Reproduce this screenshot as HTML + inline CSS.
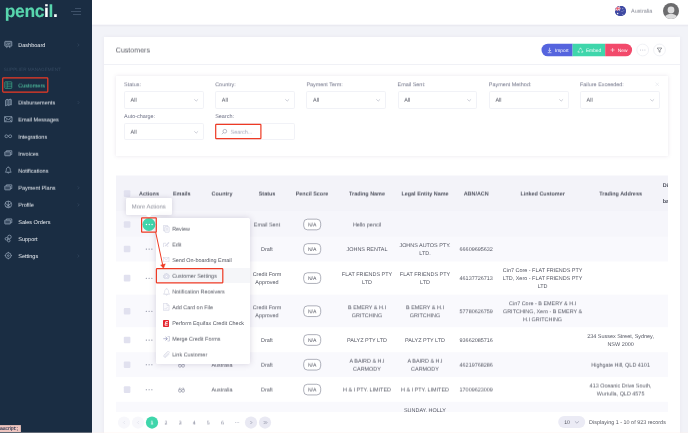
<!DOCTYPE html>
<html>
<head>
<meta charset="utf-8">
<title>Customers</title>
<style>
*{box-sizing:border-box;margin:0;padding:0}
html,body{width:688px;height:433px;overflow:hidden;background:#f2f3f8}
body{font-family:"Liberation Sans",sans-serif;font-size:5.45px;color:#525561;position:relative;text-rendering:geometricPrecision}
#wrap{position:absolute;left:0;top:0;width:688px;height:433px;filter:blur(0.28px)}
.s25{filter:url(#s25)}.s50{filter:url(#s50)}.s75{filter:url(#s75)}
.cc{position:absolute;white-space:nowrap;line-height:8px;transform:translateX(-50%);text-align:center}
.nat{font-size:5.1px}
.tx{position:absolute;white-space:nowrap;line-height:8px}
.abs{position:absolute}
.t{position:absolute;white-space:nowrap;line-height:8px;transform:translateY(-50%)}
.c{position:absolute;white-space:nowrap;line-height:8.19px;transform:translate(-50%,-50%);text-align:center}
/* sidebar */
#side{position:absolute;left:0;top:0;width:92px;height:433px;background:#1a2d43}
#sidebg{position:absolute;left:-6px;top:-6px;width:98px;height:445px;background:#1a2d43}
#logo{position:absolute;left:4.8px;top:2.2px;font-size:17.5px;font-weight:700;color:#58d5ad;letter-spacing:-0.42px;line-height:19px;-webkit-text-stroke:0.1px #58d5ad}
#logo b{color:#fff;-webkit-text-stroke:0.1px #fff}
.mi{position:absolute;left:18.2px;color:#fff;font-size:5.55px;white-space:nowrap;line-height:8px;transform:translateY(-50%);-webkit-text-stroke:0.04px #fff}
.chev{position:absolute;left:77.4px;width:2px;height:3.6px;transform:translateY(-50%);background:none}
.chev svg{display:block;width:2px;height:3.6px;overflow:visible}
.ico{position:absolute;left:4px;width:9px;height:9px;transform:translateY(-50%)}
.ico svg{width:9px;height:9px;display:block;overflow:visible}
/* header */
#head{position:absolute;left:92px;top:-6px;width:602px;height:30px;background:#fff;box-shadow:0 0.5px 2.5px rgba(82,63,105,.13)}
/* card */
#card{position:absolute;left:104px;top:36.5px;width:576px;height:420px;background:#fff;box-shadow:0 0 4px rgba(82,63,105,.06)}
#filter{position:absolute;left:116px;top:75.5px;width:552px;height:80.3px;background:#fff;box-shadow:0 0 4px rgba(82,63,105,.13)}
.lbl{position:absolute;white-space:nowrap;line-height:8px;transform:translateY(-50%);color:#6e7186}
.sel{position:absolute;width:79.8px;height:16.6px;border:1px solid #f1f2f7;border-radius:1.6px;background:#fff}
.sel span{position:absolute;left:5.4px;top:50%;transform:translateY(-50%);line-height:8px;color:#4e515e}
.sel i{position:absolute;right:4.7px;top:6.6px;width:4.4px;height:2.4px}
.sel i svg{display:block;width:4.4px;height:2.4px;overflow:visible}
/* table */
#tbl{position:absolute;left:116px;top:175.5px;width:552px;height:260px;overflow:hidden}
.row{position:absolute;left:0;width:552px}
.str{background:#f4f4fa}
.th{font-weight:700;color:#4d505d}
.cb{position:absolute;left:124px;width:6.4px;height:6.4px;background:#e1e1ef;border-radius:1px;transform:translateY(-50%)}
.dots{position:absolute;left:145.2px;width:8px;height:2px;transform:translateY(-50%)}
.dots i{position:absolute;top:0.5px;width:1px;height:1px;border-radius:50%;background:#74788d}
.na{position:absolute;left:303.3px;width:17.8px;height:11.3px;border:1px solid #9c9eab;border-radius:4.2px;transform:translateY(-50%);background:#fff;text-align:center;line-height:10.3px;font-size:5.1px;color:#525561;overflow:hidden}
/* dropdown */
#dd{position:absolute;left:156.3px;top:217.5px;width:93.7px;height:146.8px;background:#fff;border-radius:1.5px;box-shadow:0 0 6px rgba(82,63,105,.22)}
.di{position:absolute;left:172px;white-space:nowrap;line-height:8px;transform:translateY(-50%);color:#51545f}
.dic{position:absolute;left:163px;width:7px;height:7px;transform:translateY(-50%)}
.dic svg{width:7px;height:7px;display:block;overflow:visible}
</style>
</head>
<body>
<svg width="0" height="0" style="position:absolute"><defs>
<filter id="s25" x="-5%" y="-30%" width="110%" height="160%" color-interpolation-filters="sRGB"><feConvolveMatrix order="1 2" kernelMatrix="0.75 0.25" targetX="0" targetY="1" edgeMode="none" preserveAlpha="false"/></filter>
<filter id="s50" x="-5%" y="-30%" width="110%" height="160%" color-interpolation-filters="sRGB"><feConvolveMatrix order="1 2" kernelMatrix="0.5 0.5" targetX="0" targetY="1" edgeMode="none" preserveAlpha="false"/></filter>
<filter id="s75" x="-5%" y="-30%" width="110%" height="160%" color-interpolation-filters="sRGB"><feConvolveMatrix order="1 2" kernelMatrix="0.25 0.75" targetX="0" targetY="1" edgeMode="none" preserveAlpha="false"/></filter>
</defs></svg>
<div id="wrap">
<!-- ===== card / main ===== -->
<div class="abs" style="left:-6px;top:-6px;width:700px;height:445px;background:#f2f3f8"></div>
<div id="head"></div>
<div class="abs" style="left:92px;top:24px;width:600px;height:1px;background:#f8f8fb"></div>
<div id="card"></div>
<div class="tx s50" style="left:115.8px;top:47px;font-size:7.07px;color:#575962">Customers</div>
<div class="abs" style="left:104px;top:64px;width:576px;height:1px;background:#f0f1f6"></div>

<!-- flag -->
<div class="abs" style="left:615.1px;top:5.5px;width:10.8px;height:10.8px;border-radius:50%;background:#3f4aa3;overflow:hidden">
  <svg viewBox="0 0 20 20" width="10.8" height="10.8" style="display:block"><rect width="20" height="20" fill="#3f4aa3"/><path d="M0 0h10v9H0z" fill="#4450a8"/><path d="M0 1l9 7M9 1L0 8" stroke="#fff" stroke-width="2"/><path d="M0 1l9 7M9 1L0 8" stroke="#ea5064" stroke-width="1"/><path d="M4.500 0v9M0 4.500h10" stroke="#fff" stroke-width="2.600"/><path d="M4.500 0v9M0 4.500h10" stroke="#ea5064" stroke-width="1.500"/><circle cx="5" cy="14" r="1.300" fill="#fff"/><circle cx="14.500" cy="5" r="0.900" fill="#fff"/><circle cx="16.500" cy="9" r="0.800" fill="#fff"/><circle cx="13" cy="10.500" r="0.800" fill="#fff"/><circle cx="14.500" cy="15.500" r="0.900" fill="#fff"/></svg>
</div>
<div class="tx s75" style="left:631px;top:7px;color:#7c7f8c">Australia</div>
<!-- avatar -->
<div class="abs" style="left:663px;top:2.9px;width:16px;height:16px;border-radius:50%;background:#6b6b6d;overflow:hidden">
  <svg viewBox="0 0 32 32" width="16" height="16" style="display:block"><circle cx="16" cy="14" r="6.800" fill="#dcdcdd"/><path d="M3 33c0-8 4.500-11 13-11s13 3 13 11z" fill="#dcdcdd"/></svg>
</div>

<svg class="abs" style="left:536px;top:40px" width="100" height="20" viewBox="536 40 100 20">
<defs><clipPath id="bgc"><rect x="541.5" y="43.7" width="90.6" height="12.6" rx="6.3"/></clipPath></defs>
<g clip-path="url(#bgc)"><rect x="541" y="43" width="31.600" height="14" fill="#5564de"/><rect x="572.600" y="43" width="32.600" height="14" fill="#3fd6ab"/><rect x="605.200" y="43" width="28" height="14" fill="#f24a6b"/></g>
<g fill="none" stroke="#fff">
<path d="M549.600 47.700v3.700M548.200 50l1.400 1.400 1.400-1.400M547.700 52.700h3.800" stroke-width="0.600"/>
<path d="M579.400 49.600L580.500 47.800l1.100 1.800M582.300 50.600l.7 1.500h-1.900M579.800 52.100h-1.900l.7-1.500" stroke-width="0.600"/>
<path d="M612.600 48v4M610.600 50h4" stroke-width="0.550"/>
</g></svg>
<div class="tx" style="left:554.9px;top:48px;font-size:4.85px;color:#fff">Import</div>
<div class="tx" style="left:585.9px;top:48px;font-size:4.85px;color:#fff">Embed</div>
<div class="tx" style="left:617.8px;top:48px;font-size:4.85px;color:#fff">New</div>
<svg class="abs" style="left:634px;top:40px" width="36" height="20" viewBox="634 40 36 20" fill="none">
<circle cx="642.700" cy="50" r="5.900" fill="#fff" stroke="#eceef3" stroke-width="0.800"/>
<circle cx="659.500" cy="50" r="5.900" fill="#fff" stroke="#eceef3" stroke-width="0.800"/>
<circle cx="640.500" cy="50" r="0.550" fill="#bfc2cf"/><circle cx="642.700" cy="50" r="0.550" fill="#bfc2cf"/><circle cx="644.900" cy="50" r="0.550" fill="#bfc2cf"/>
<path d="M657.200 48h4.600l-1.750 2.200v2.100l-1.100-.7v-1.400z" stroke="#575962" stroke-width="0.550" stroke-linejoin="round"/>
</svg>

<div id="filter"></div>
<div class="tx s25" style="left:124px;top:81px;color:#6e7186">Status:</div>
<div class="sel" style="left:124px;top:91px;height:18px"><i><svg viewBox="0 0 8.800 4.800" fill="none" stroke="#8f93a8" stroke-width="0.9"><path d="M0.600 0.600L4.400 4.200L8.200 0.600"/></svg></i></div>
<div class="tx s75" style="left:130.6px;top:96px;color:#4e515e">All</div>
<div class="tx s25" style="left:215.2px;top:81px;color:#6e7186">Country:</div>
<div class="sel" style="left:215.2px;top:91px;height:18px"><i><svg viewBox="0 0 8.800 4.800" fill="none" stroke="#8f93a8" stroke-width="0.9"><path d="M0.600 0.600L4.400 4.200L8.200 0.600"/></svg></i></div>
<div class="tx s75" style="left:221.79999999999998px;top:96px;color:#4e515e">All</div>
<div class="tx s25" style="left:306.4px;top:81px;color:#6e7186">Payment Term:</div>
<div class="sel" style="left:306.4px;top:91px;height:18px"><i><svg viewBox="0 0 8.800 4.800" fill="none" stroke="#8f93a8" stroke-width="0.9"><path d="M0.600 0.600L4.400 4.200L8.200 0.600"/></svg></i></div>
<div class="tx s75" style="left:313.0px;top:96px;color:#4e515e">All</div>
<div class="tx s25" style="left:397.6px;top:81px;color:#6e7186">Email Sent:</div>
<div class="sel" style="left:397.6px;top:91px;height:18px"><i><svg viewBox="0 0 8.800 4.800" fill="none" stroke="#8f93a8" stroke-width="0.9"><path d="M0.600 0.600L4.400 4.200L8.200 0.600"/></svg></i></div>
<div class="tx s75" style="left:404.20000000000005px;top:96px;color:#4e515e">All</div>
<div class="tx s25" style="left:488.8px;top:81px;color:#6e7186">Payment Method:</div>
<div class="sel" style="left:488.8px;top:91px;height:18px"><i><svg viewBox="0 0 8.800 4.800" fill="none" stroke="#8f93a8" stroke-width="0.9"><path d="M0.600 0.600L4.400 4.200L8.200 0.600"/></svg></i></div>
<div class="tx s75" style="left:495.40000000000003px;top:96px;color:#4e515e">All</div>
<div class="tx s25" style="left:580px;top:81px;color:#6e7186">Failure Exceeded:</div>
<div class="sel" style="left:580px;top:91px;height:18px"><i><svg viewBox="0 0 8.800 4.800" fill="none" stroke="#8f93a8" stroke-width="0.9"><path d="M0.600 0.600L4.400 4.200L8.200 0.600"/></svg></i></div>
<div class="tx s75" style="left:586.6px;top:96px;color:#4e515e">All</div>
<div class="tx" style="left:124px;top:113px;color:#6e7186">Auto-charge:</div>
<div class="tx" style="left:215.2px;top:113px;color:#6e7186">Search:</div>
<div class="sel" style="left:124px;top:123px;height:17px"><i><svg viewBox="0 0 8.800 4.800" fill="none" stroke="#8f93a8" stroke-width="0.9"><path d="M0.600 0.600L4.400 4.200L8.200 0.600"/></svg></i></div>
<div class="tx s75" style="left:130.6px;top:128px;color:#4e515e">All</div>
<div class="sel" style="left:215.2px;top:123px;height:17px"></div>
<svg class="abs" style="left:221px;top:128px;overflow:visible" width="6" height="6" viewBox="0 0 10 10" fill="none" stroke="#7f8398" stroke-width="0.85"><g transform="translate(0.6 1.2)"><circle cx="5.800" cy="4.200" r="3.100"/><path d="M3.500 6.500L0.800 9.200"/></g></svg>
<div class="tx s75" style="left:230.6px;top:128px;color:#a4a8ba">Search...</div>
<svg class="abs" style="left:212px;top:120px" width="54" height="24" viewBox="212 120 54 24" fill="none" stroke="#ee3a24" stroke-width="1.2"><rect x="215.700" y="124.400" width="45.200" height="14.300" rx="0.600"/></svg>
<svg class="abs" style="left:654.800px;top:82px" width="4.600" height="4.600" viewBox="0 0 9 9" fill="none" stroke="#dfe1ea" stroke-width="1"><path d="M1 1l7 7M8 1L1 8"/></svg>

<svg class="abs" style="left:116px;top:175px" width="552" height="258" viewBox="116 175 552 258" fill="none">
<rect x="116" y="175.5" width="552" height="36.2" fill="#f3f3f9"/>
<rect x="116" y="211.7" width="552" height="25.2" fill="#f6f6fb"/>
<rect x="116" y="236.9" width="552" height="24.7" fill="#f9f9fd"/>
<rect x="116" y="261.6" width="552" height="33.0" fill="#ffffff"/>
<rect x="116" y="294.6" width="552" height="32.8" fill="#f9f9fd"/>
<rect x="116" y="327.4" width="552" height="24.8" fill="#ffffff"/>
<rect x="116" y="352.2" width="552" height="24.8" fill="#f9f9fd"/>
<rect x="116" y="377.0" width="552" height="24.8" fill="#ffffff"/>
<rect x="116" y="401.8" width="552" height="28.2" fill="#f9f9fd"/>
<rect x="123.800" y="190.30" width="6.600" height="6.600" rx="1" fill="#e1e1ef"/>
<rect x="123.800" y="221.20" width="6.600" height="6.600" rx="1" fill="#e1e1ef"/>
<rect x="303.700" y="219.15" width="17" height="10.700" rx="3.900" fill="#fff" stroke="#8d8f9d" stroke-width="0.700"/>
<rect x="123.800" y="245.70" width="6.600" height="6.600" rx="1" fill="#e1e1ef"/>
<circle cx="146.3" cy="249.10" r="0.560" fill="#74788d"/><circle cx="149.1" cy="249.10" r="0.560" fill="#74788d"/><circle cx="151.9" cy="249.10" r="0.560" fill="#74788d"/>
<rect x="303.700" y="243.65" width="17" height="10.700" rx="3.900" fill="#fff" stroke="#8d8f9d" stroke-width="0.700"/>
<rect x="123.800" y="274.80" width="6.600" height="6.600" rx="1" fill="#e1e1ef"/>
<circle cx="146.3" cy="278.20" r="0.560" fill="#74788d"/><circle cx="149.1" cy="278.20" r="0.560" fill="#74788d"/><circle cx="151.9" cy="278.20" r="0.560" fill="#74788d"/>
<rect x="303.700" y="272.75" width="17" height="10.700" rx="3.900" fill="#fff" stroke="#8d8f9d" stroke-width="0.700"/>
<rect x="123.800" y="307.90" width="6.600" height="6.600" rx="1" fill="#e1e1ef"/>
<circle cx="146.3" cy="311.30" r="0.560" fill="#74788d"/><circle cx="149.1" cy="311.30" r="0.560" fill="#74788d"/><circle cx="151.9" cy="311.30" r="0.560" fill="#74788d"/>
<rect x="303.700" y="305.85" width="17" height="10.700" rx="3.900" fill="#fff" stroke="#8d8f9d" stroke-width="0.700"/>
<rect x="123.800" y="336.70" width="6.600" height="6.600" rx="1" fill="#e1e1ef"/>
<circle cx="146.3" cy="340.10" r="0.560" fill="#74788d"/><circle cx="149.1" cy="340.10" r="0.560" fill="#74788d"/><circle cx="151.9" cy="340.10" r="0.560" fill="#74788d"/>
<rect x="303.700" y="334.65" width="17" height="10.700" rx="3.900" fill="#fff" stroke="#8d8f9d" stroke-width="0.700"/>
<rect x="123.800" y="361.40" width="6.600" height="6.600" rx="1" fill="#e1e1ef"/>
<circle cx="146.3" cy="364.80" r="0.560" fill="#74788d"/><circle cx="149.1" cy="364.80" r="0.560" fill="#74788d"/><circle cx="151.9" cy="364.80" r="0.560" fill="#74788d"/>
<rect x="303.700" y="359.35" width="17" height="10.700" rx="3.900" fill="#fff" stroke="#8d8f9d" stroke-width="0.700"/>
<rect x="123.800" y="386.30" width="6.600" height="6.600" rx="1" fill="#e1e1ef"/>
<circle cx="146.3" cy="389.70" r="0.560" fill="#74788d"/><circle cx="149.1" cy="389.70" r="0.560" fill="#74788d"/><circle cx="151.9" cy="389.70" r="0.560" fill="#74788d"/>
<rect x="303.700" y="384.25" width="17" height="10.700" rx="3.900" fill="#fff" stroke="#8d8f9d" stroke-width="0.700"/>
</svg>
<div class="cc s50 th" style="left:149px;top:190px">Actions</div>
<div class="cc s50 th" style="left:181.7px;top:190px">Emails</div>
<div class="cc s50 th" style="left:222px;top:190px">Country</div>
<div class="cc s50 th" style="left:267px;top:190px">Status</div>
<div class="cc s50 th" style="left:312px;top:190px">Pencil Score</div>
<div class="cc s50 th" style="left:367px;top:190px">Trading Name</div>
<div class="cc s50 th" style="left:425px;top:190px">Legal Entity Name</div>
<div class="cc s50 th" style="left:476.2px;top:190px">ABN/ACN</div>
<div class="cc s50 th" style="left:542.6px;top:190px">Linked Customer</div>
<div class="cc s50 th" style="left:620.6px;top:190px">Trading Address</div>
<div class="abs th" style="left:662.8px;top:182px;width:5.2px;height:8px;overflow:hidden;line-height:8px;white-space:nowrap">Discount</div>
<div class="abs th" style="left:662.8px;top:198px;width:5.2px;height:8px;overflow:hidden;line-height:8px;white-space:nowrap">based</div>
<div class="cc s50 nat" style="left:312.2px;top:221px">N/A</div>
<div class="cc s50" style="left:267px;top:221px">Email Sent</div>
<div class="cc s50" style="left:367px;top:221px">Hello pencil</div>
<div class="cc nat" style="left:312.2px;top:246px">N/A</div>
<div class="cc" style="left:267px;top:246px">Draft</div>
<div class="cc" style="left:367px;top:246px">JOHNS RENTAL</div>
<div class="cc" style="left:425px;top:242px">JOHNS AUTOS PTY.<br>LTD.</div>
<div class="cc" style="left:476.2px;top:246px">66609695632</div>
<div class="cc nat" style="left:312.2px;top:275px">N/A</div>
<div class="cc" style="left:267px;top:271px">Credit Form<br>Approved</div>
<div class="cc" style="left:367px;top:271px">FLAT FRIENDS PTY<br>LTD</div>
<div class="cc" style="left:425px;top:271px">FLAT FRIENDS PTY<br>LTD</div>
<div class="cc" style="left:476.2px;top:275px">46137726713</div>
<div class="cc" style="left:542.6px;top:267px">Cin7 Core - FLAT FRIENDS PTY<br>LTD, Xero - FLAT FRIENDS PTY<br>LTD</div>
<div class="cc s25 nat" style="left:312.2px;top:308px">N/A</div>
<div class="cc s25" style="left:267px;top:304px">Credit Form<br>Approved</div>
<div class="cc s25" style="left:367px;top:304px">B EMERY &amp; H.I<br>GRITCHING</div>
<div class="cc s25" style="left:425px;top:304px">B EMERY &amp; H.I<br>GRITCHING</div>
<div class="cc s25" style="left:476.2px;top:308px">57780626759</div>
<div class="cc s25" style="left:542.6px;top:300px">Cin7 Core - B EMERY &amp; H.I<br>GRITCHING, Xero - B EMERY &amp;<br>H.I GRITCHING</div>
<div class="cc nat" style="left:312.2px;top:337px">N/A</div>
<div class="cc" style="left:267px;top:337px">Draft</div>
<div class="cc" style="left:367px;top:337px">PALYZ PTY LTD</div>
<div class="cc" style="left:425px;top:337px">PALYZ PTY LTD</div>
<div class="cc" style="left:476.2px;top:337px">93662085716</div>
<div class="cc" style="left:620.6px;top:333px">234 Sussex Street, Sydney,<br>NSW 2000</div>
<div class="cc s75 nat" style="left:312.2px;top:361px">N/A</div>
<div class="cc s75" style="left:267px;top:361px">Draft</div>
<div class="cc s75" style="left:367px;top:357px">A BAIRD &amp; H.I<br>CARMODY</div>
<div class="cc s75" style="left:425px;top:357px">A BAIRD &amp; H.I<br>CARMODY</div>
<div class="cc s75" style="left:476.2px;top:361px">46219768286</div>
<div class="cc s75" style="left:620.6px;top:361px">Highgate Hill, QLD 4101</div>
<div class="cc s75" style="left:222px;top:361px">Australia</div>
<svg class="abs" style="left:178.2px;top:361.8px" width="7" height="5.9" viewBox="0 0 13 11" fill="none" stroke="#6c7087" stroke-width="0.9"><circle cx="3.6" cy="7.2" r="2.6"/><circle cx="9.4" cy="7.2" r="2.6"/><path d="M6.2 7.2h0.600M1.300 6l1.500-4.200c.3-.8 1.400-.8 1.700 0M11.700 6l-1.500-4.200c-.3-.8-1.400-.8-1.700 0M4.800 3.500h3.400"/></svg>
<div class="cc s50 nat" style="left:312.2px;top:386px">N/A</div>
<div class="cc s50" style="left:267px;top:386px">Draft</div>
<div class="cc s50" style="left:367px;top:386px">H &amp; I PTY. LIMITED</div>
<div class="cc s50" style="left:425px;top:386px">H &amp; I PTY. LIMITED</div>
<div class="cc s50" style="left:476.2px;top:386px">17009623009</div>
<div class="cc s50" style="left:620.6px;top:382px">413 Oceanic Drive South,<br>Wurtulla, QLD 4575</div>
<div class="cc s50" style="left:222px;top:386px">Australia</div>
<svg class="abs" style="left:178.2px;top:386.70000000000005px" width="7" height="5.9" viewBox="0 0 13 11" fill="none" stroke="#6c7087" stroke-width="0.9"><circle cx="3.6" cy="7.2" r="2.6"/><circle cx="9.4" cy="7.2" r="2.6"/><path d="M6.2 7.2h0.600M1.300 6l1.500-4.200c.3-.8 1.400-.8 1.700 0M11.700 6l-1.500-4.200c-.3-.8-1.400-.8-1.700 0M4.800 3.500h3.400"/></svg>
<div class="cc" style="left:425px;top:407px">SUNDAY. HOLLY</div>

<!-- More Actions tooltip -->
<div class="abs" style="left:126px;top:198.2px;width:46px;height:16.8px;background:#fff;border-radius:1.3px;box-shadow:0 0 5px rgba(82,63,105,.2)"></div>
<div class="abs" style="left:146.600px;top:213.300px;width:3.600px;height:3.600px;background:#fff;transform:rotate(45deg)"></div>
<div class="tx s50" style="left:148.8px;top:203px;font-size:5.9px;transform:translateX(-50%);text-align:center;color:#8c8e9a">More Actions</div>
<!-- green action button -->
<svg class="abs" style="left:140px;top:216px" width="18" height="18" viewBox="140 216 18 18"><circle cx="148.900" cy="224.550" r="6.450" fill="#3fd6ab"/><circle cx="146.400" cy="224.550" r="0.700" fill="#fff"/><circle cx="149.250" cy="224.550" r="0.700" fill="#fff"/><circle cx="152.100" cy="224.550" r="0.700" fill="#fff"/></svg>
<!-- dropdown -->
<div id="dd"></div>
<div class="abs" style="left:156.3px;top:268.3px;width:93.7px;height:14.7px;background:#f5f6f9"></div>
<div class="tx s75" style="left:172.15px;top:225px;color:#51545f">Review</div>
<div class="tx s50" style="left:172.15px;top:241px;color:#51545f">Edit</div>
<div class="tx" style="left:172.15px;top:257px;color:#51545f">Send On-boarding Email</div>
<div class="tx s75" style="left:172.15px;top:272px;color:#51545f">Customer Settings</div>
<div class="tx s50" style="left:172.15px;top:288px;color:#51545f">Notification Receivers</div>
<div class="tx s25" style="left:172.15px;top:304px;color:#51545f">Add Card on File</div>
<div class="tx" style="left:172.15px;top:320px;color:#51545f">Perform Equifax Credit Check</div>
<div class="tx s75" style="left:172.15px;top:335px;color:#51545f">Merge Credit Forms</div>
<div class="tx s50" style="left:172.15px;top:351px;color:#51545f">Link Customer</div>
<!-- icons -->
<svg class="abs" style="left:163.200px;top:225px" width="6.600" height="7.600" viewBox="0 0 13.200 15.200" fill="#f3f3f9" stroke="#c6c8da" stroke-width="1"><rect x="0.600" y="0.600" width="8.600" height="11" rx="1"/><rect x="3.800" y="3.600" width="8.600" height="11" rx="1" fill="#fafafd"/><path d="M6 7.500h4M6 10h4" /></svg>
<svg class="abs" style="left:163.200px;top:241.600px" width="6.600" height="5.800" viewBox="0 0 13.200 11.600" fill="none" stroke="#c6c8da" stroke-width="1"><path d="M9.500 7v3.800H1V2.500h5"/><path d="M4.800 8l1.500-.3 6-6L11 .6l-6 6z" fill="#e6e7f1"/></svg>
<svg class="abs" style="left:163.400px;top:257.300px" width="6.400" height="5.200" viewBox="0 0 12.800 10.400" fill="#fbfbfe" stroke="#c6c8da" stroke-width="0.9"><rect x="0.600" y="0.600" width="11.600" height="9.200" rx="0.500"/><path d="M0.800 1l5.600 4.400L12 1" fill="none"/></svg>
<svg class="abs" style="left:162.900px;top:272.600px" width="6.800" height="6.800" viewBox="0 0 13.600 13.600" fill="none" stroke="#c6c8da" stroke-width="1"><circle cx="6.800" cy="6.800" r="5.800" stroke-dasharray="2.600 1" stroke-width="1.400"/><circle cx="6.800" cy="6.800" r="4.600" fill="#f1f1f8"/><circle cx="6.800" cy="6.800" r="2.200" fill="#fff"/></svg>
<svg class="abs" style="left:162.900px;top:288px" width="7.200" height="7.600" viewBox="0 0 14.400 15.200" fill="none" stroke="#c6c8da" stroke-width="1"><path d="M7.200 2C4.400 2 3.400 4.400 3.400 6.800c0 3.200-1.400 4.600-2.400 5.600h12.400c-1-1-2.400-2.400-2.400-5.600C11 4.400 10 2 7.200 2zM5.600 12.800a1.600 1.600 0 003.200 0M7.200 .5V2"/></svg>
<svg class="abs" style="left:163.200px;top:303.400px" width="6.400" height="7.600" viewBox="0 0 12.800 15.200" fill="#fafafd" stroke="#c6c8da" stroke-width="1"><path d="M0.600 .6h7.400l4.200 4.200v9.800H0.600zM8 .6v4.200h4.200"/><path d="M3.400 10.500l1.800 1.800L9 8.200" fill="none"/></svg>
<div class="abs" style="left:162.9px;top:319.9px;width:6.4px;height:6.8px;background:#e5242f;border-radius:0.7px"></div>
<svg class="abs" style="left:163.900px;top:320.900px" width="4.600" height="4.800" viewBox="0 0 9.200 9.600" fill="none" stroke="#fff" stroke-width="1.700"><path d="M8.600 1.200H3.600L2 8.400h5.400M2.800 4.800h4.600"/></svg>
<svg class="abs" style="left:162.800px;top:336.200px" width="6.800" height="5.400" viewBox="0 0 13.600 10.800" fill="none" stroke="#7276a3" stroke-width="1.400"><path d="M0.500 5.400h7.500" stroke="#9a9dc0"/><path d="M5.200 2l3.600 3.400-3.600 3.400" /><path d="M9 .7h3.800v9.400H9" stroke="#a9acc8" stroke-width="1.100"/></svg>
<svg class="abs" style="left:162.800px;top:350.800px" width="7.200" height="7.200" viewBox="0 0 14.400 14.400" fill="none" stroke="#c6c8da" stroke-width="1"><path d="M13 5.500L6.200 12.300a3 3 0 01-4.200-4.200L9 1.100a2 2 0 012.900 2.900L5.200 10.700a1 1 0 01-1.500-1.500L9.800 3.100"/></svg>
<!-- red annotations -->
<svg class="abs" style="left:136px;top:212px" width="100" height="80" viewBox="136 212 100 80" fill="none" stroke="#ee3a24" stroke-width="1.2">
<rect x="141.600" y="217.900" width="14.700" height="14.200" rx="0.400"/>
<rect x="156.400" y="268.700" width="66.400" height="14.200" rx="0.700"/>
<path d="M155.700 232.300L162.700 265" stroke-width="1"/>
<path d="M160.500 264.900L165.400 263.800L163.500 268.600z" fill="#ee3a24" stroke-width="0.300"/>
</svg>

<div class="abs" style="left:104px;top:412.2px;width:576px;height:22px;background:rgba(255,255,255,.96)"></div>
<svg class="abs" style="left:112px;top:412px" width="170" height="21" viewBox="112 412 170 21" fill="none">
<circle cx="124" cy="422.55" r="6.1" fill="#f7f7fb"/><circle cx="138" cy="422.55" r="6.1" fill="#f7f7fb"/><circle cx="152" cy="422.55" r="6.1" fill="#3fd6ab"/>
<circle cx="251" cy="422.55" r="6.1" fill="#e9e9f3"/><circle cx="265" cy="422.55" r="6.1" fill="#e9e9f3"/>
<path d="M124.900 421.05l-1.500 1.500 1.500 1.500M138.900 421.05l-1.500 1.500 1.500 1.500" stroke="#dcdde8" stroke-width="0.600"/>
<path d="M250.400 421.05l1.500 1.500-1.500 1.500" stroke="#8a8da0" stroke-width="0.650"/>
<path d="M263.700 421.05l1.500 1.500-1.500 1.500M265.500 421.05l1.500 1.500-1.500 1.500" stroke="#8a8da0" stroke-width="0.650"/>
<circle cx="235.400" cy="422.55" r="0.450" fill="#a8abbb"/><circle cx="237.100" cy="422.55" r="0.450" fill="#a8abbb"/><circle cx="238.800" cy="422.55" r="0.450" fill="#a8abbb"/>
</svg>
<div class="tx s50" style="left:152px;top:419px;font-size:5.2px;transform:translateX(-50%);text-align:center;color:#fff;font-weight:700">1</div>
<div class="tx s50" style="left:166.0px;top:419px;font-size:5.2px;transform:translateX(-50%);text-align:center;color:#777a90">2</div>
<div class="tx s50" style="left:180.1px;top:419px;font-size:5.2px;transform:translateX(-50%);text-align:center;color:#777a90">3</div>
<div class="tx s50" style="left:194.2px;top:419px;font-size:5.2px;transform:translateX(-50%);text-align:center;color:#777a90">4</div>
<div class="tx s50" style="left:208.3px;top:419px;font-size:5.2px;transform:translateX(-50%);text-align:center;color:#777a90">5</div>
<div class="tx s50" style="left:222.4px;top:419px;font-size:5.2px;transform:translateX(-50%);text-align:center;color:#777a90">6</div>
<svg class="abs" style="left:556px;top:412px" width="32" height="21" viewBox="556 412 32 21" fill="none">
<rect x="558.200" y="416.05" width="27" height="11.900" rx="5.950" fill="#ebebf5"/>
<path d="M574.900 421.3l2 1.900 2-1.900" stroke="#7b7e92" stroke-width="0.500"/>
</svg>
<div class="tx" style="left:564.2px;top:419px;font-size:5.2px;color:#575962">10</div>
<div class="tx" style="left:589.1px;top:419px;color:#575962">Displaying 1 - 10 of 923 records</div>

<div id="sidebg"></div>
<div id="side">
  <div id="logo">penc<b>i</b>l<b>.</b></div>
  <div class="abs" style="left:74.9px;top:8.1px;width:5.8px;height:0.6px;background:#3d5068"></div>
  <div class="abs" style="left:70.5px;top:10.7px;width:10.2px;height:0.6px;background:#3d5068"></div>
  <div class="abs" style="left:72.7px;top:13.8px;width:8px;height:0.6px;background:#3d5068"></div>
  <div class="tx" style="left:3.7px;top:66px;font-size:4.62px;color:#344960">SUPPLIER MANAGEMENT</div>
  <svg class="abs" style="left:4px;top:40px;overflow:visible" width="8.4" height="8.4" viewBox="0 0 18 18" fill="none" stroke="#9eafc2" stroke-width="1.45"><g transform="translate(0.2 0.86)"><rect x="1.5" y="2" width="15" height="10.5" rx="1.2" fill="rgba(158,175,194,.28)"/><path d="M5.500 16.500l1-4M12.500 16.500l-1-4M5 9.500l3-3 2.500 2 3-3.500"/></g></svg>
  <div class="tx" style="left:18.2px;top:42px;font-size:5.55px;color:#e9edf2">Dashboard</div>
  <svg class="abs" style="left:77px;top:43px;overflow:visible" width="2" height="3.6" viewBox="0 0 4 7.2" fill="none" stroke="#41556e" stroke-width="0.9"><g transform="translate(0.8 0.40)"><path d="M0.600 0.600L3.400 3.600L0.600 6.600"/></g></svg>
  <svg class="abs" style="left:4px;top:80px;overflow:visible" width="8.4" height="8.4" viewBox="0 0 18 18" fill="none" stroke="#3fae8c" stroke-width="1.45"><g transform="translate(0.2 1.93)"><rect x="1.500" y="2" width="15" height="14" rx="1"/><path d="M6.500 2v14M6.500 6.600h10M6.500 11.300h10M3.300 6.600h1.500M3.300 11.300h1.500"/></g></svg>
  <div class="tx s50" style="left:18.2px;top:82px;font-size:5.55px;color:#56d4ab">Customers</div>
  <svg class="abs" style="left:4px;top:97px;overflow:visible" width="8.4" height="8.4" viewBox="0 0 18 18" fill="none" stroke="#9eafc2" stroke-width="1.45"><g transform="translate(0.2 2.04)"><path d="M3 5l3.500-2v12L3 17zM6.500 3l3.500 1v12l-3.500-1M10 4l3-1.500v12l-3 1.500M13 2.500l2.500 1v11.500l-2.500-.5"/></g></svg>
  <div class="tx s50" style="left:18.2px;top:99px;font-size:5.55px;color:#e9edf2">Disbursements</div>
  <svg class="abs" style="left:77px;top:100px;overflow:visible" width="2" height="3.6" viewBox="0 0 4 7.2" fill="none" stroke="#41556e" stroke-width="0.9"><g transform="translate(0.8 1.50)"><path d="M0.600 0.600L3.400 3.600L0.600 6.600"/></g></svg>
  <svg class="abs" style="left:4px;top:114px;overflow:visible" width="8.4" height="8.4" viewBox="0 0 18 18" fill="none" stroke="#9eafc2" stroke-width="1.45"><g transform="translate(0.2 2.14)"><rect x="1" y="3.500" width="16" height="11" rx="0.500"/><path d="M1 4l8 6 8-6M1 14.500l5.500-5M17 14.500l-5.500-5"/></g></svg>
  <div class="tx s50" style="left:18.2px;top:116px;font-size:5.55px;color:#e9edf2">Email Messages</div>
  <svg class="abs" style="left:4px;top:132px;overflow:visible" width="8.4" height="8.4" viewBox="0 0 18 18" fill="none" stroke="#9eafc2" stroke-width="1.45"><g transform="translate(0.2 0.11)"><path d="M9 9c-1.200-2-2.500-3-4.200-3a3 3 0 000 6c1.700 0 3-1 4.200-3zm0 0c1.200 2 2.500 3 4.200 3a3 3 0 000-6C11.500 6 10.200 7 9 9z"/></g></svg>
  <div class="tx s75" style="left:18.2px;top:133px;font-size:5.55px;color:#e9edf2">Integrations</div>
  <svg class="abs" style="left:4px;top:149px;overflow:visible" width="8.4" height="8.4" viewBox="0 0 18 18" fill="none" stroke="#9eafc2" stroke-width="1.45"><g transform="translate(0.2 0.21)"><path d="M5 5.500V3.500h11.500v8h-2.500"/><rect x="1.500" y="5.800" width="12" height="8.500" rx="0.800" fill="rgba(158,175,194,.25)"/></g></svg>
  <div class="tx s75" style="left:18.2px;top:150px;font-size:5.55px;color:#e9edf2">Invoices</div>
  <svg class="abs" style="left:4px;top:166px;overflow:visible" width="8.4" height="8.4" viewBox="0 0 18 18" fill="none" stroke="#9eafc2" stroke-width="1.45"><g transform="translate(0.2 0.32)"><path d="M9 2.500c-3 0-4.200 2.300-4.200 5 0 3-1.500 4.500-2 5.500h12.400c-.5-1-2-2.500-2-5.500 0-2.700-1.200-5-4.200-5zM7.500 13.500a1.500 1.500 0 003 0M9 1v1.500"/></g></svg>
  <div class="tx s75" style="left:18.2px;top:167px;font-size:5.55px;color:#e9edf2">Notifications</div>
  <svg class="abs" style="left:4px;top:183px;overflow:visible" width="8.4" height="8.4" viewBox="0 0 18 18" fill="none" stroke="#9eafc2" stroke-width="1.45"><g transform="translate(0.2 0.43)"><path d="M5 5.500V3.500h11.500v8h-2.500"/><rect x="1.500" y="5.800" width="12" height="8.500" rx="0.800" fill="rgba(158,175,194,.25)"/></g></svg>
  <div class="tx s75" style="left:18.2px;top:184px;font-size:5.55px;color:#e9edf2">Payment Plans</div>
  <svg class="abs" style="left:77px;top:186px;overflow:visible" width="2" height="3.6" viewBox="0 0 4 7.2" fill="none" stroke="#41556e" stroke-width="0.9"><g transform="translate(0.8 0.00)"><path d="M0.600 0.600L3.400 3.600L0.600 6.600"/></g></svg>
  <svg class="abs" style="left:4px;top:200px;overflow:visible" width="8.4" height="8.4" viewBox="0 0 18 18" fill="none" stroke="#9eafc2" stroke-width="1.45"><g transform="translate(0.2 0.54)"><circle cx="9" cy="9" r="7.200"/><path d="M9 1.800v14.400M2.500 6.500L9 11l6.500-4.500M5 14l4-3 4 3"/></g></svg>
  <div class="tx s75" style="left:18.2px;top:201px;font-size:5.55px;color:#e9edf2">Profile</div>
  <svg class="abs" style="left:77px;top:203px;overflow:visible" width="2" height="3.6" viewBox="0 0 4 7.2" fill="none" stroke="#41556e" stroke-width="0.9"><g transform="translate(0.8 0.10)"><path d="M0.600 0.600L3.400 3.600L0.600 6.600"/></g></svg>
  <svg class="abs" style="left:4px;top:217px;overflow:visible" width="8.4" height="8.4" viewBox="0 0 18 18" fill="none" stroke="#9eafc2" stroke-width="1.45"><g transform="translate(0.2 0.64)"><path d="M5 5.500V3.500h11.500v8h-2.500"/><rect x="1.500" y="5.800" width="12" height="8.500" rx="0.800" fill="rgba(158,175,194,.25)"/></g></svg>
  <div class="tx" style="left:18.2px;top:219px;font-size:5.55px;color:#e9edf2">Sales Orders</div>
  <svg class="abs" style="left:4px;top:234px;overflow:visible" width="8.4" height="8.4" viewBox="0 0 18 18" fill="none" stroke="#9eafc2" stroke-width="1.45"><g transform="translate(0.2 0.75)"><circle cx="11.500" cy="5.500" r="3.800"/><circle cx="5" cy="9.500" r="2.800"/><circle cx="10" cy="13.500" r="2.800"/></g></svg>
  <div class="tx" style="left:18.2px;top:236px;font-size:5.55px;color:#e9edf2">Support</div>
  <svg class="abs" style="left:4px;top:251px;overflow:visible" width="8.4" height="8.4" viewBox="0 0 18 18" fill="none" stroke="#9eafc2" stroke-width="1.45"><g transform="translate(0.2 0.86)"><circle cx="9" cy="9" r="6"/><circle cx="9" cy="9" r="1.800"/><path d="M9 1v2.500M9 14.500V17M1 9h2.500M14.500 9H17"/></g></svg>
  <div class="tx" style="left:18.2px;top:253px;font-size:5.55px;color:#e9edf2">Settings</div>
  <svg class="abs" style="left:77px;top:254px;overflow:visible" width="2" height="3.6" viewBox="0 0 4 7.2" fill="none" stroke="#41556e" stroke-width="0.9"><g transform="translate(0.8 0.40)"><path d="M0.600 0.600L3.400 3.600L0.600 6.600"/></g></svg>
  <svg class="abs" style="left:0;top:74px" width="52" height="22" viewBox="0 74 52 22" fill="none" stroke="#ee3a24" stroke-width="1.2"><rect x="2.700" y="77.800" width="45.100" height="14.300" rx="0.800"/></svg>
  <!-- status tooltip -->
  <div class="abs" style="left:-2px;top:424.9px;width:23.3px;height:7.3px;background:#eec5c0;border-top:0.5px solid #d8b5b0;border-right:0.5px solid #d8b5b0;border-radius:0 1.2px 0 0;overflow:hidden"><span style="position:absolute;right:2.4px;top:-0.1px;font-size:5.1px;line-height:7px;color:#232f4a;white-space:nowrap;-webkit-text-stroke:0.1px #232f4a">javascript:;</span></div>
</div>
<div class="abs" style="left:-6px;top:432.2px;width:700px;height:2px;background:rgba(255,238,234,.32)"></div>

</div>
</body>
</html>
